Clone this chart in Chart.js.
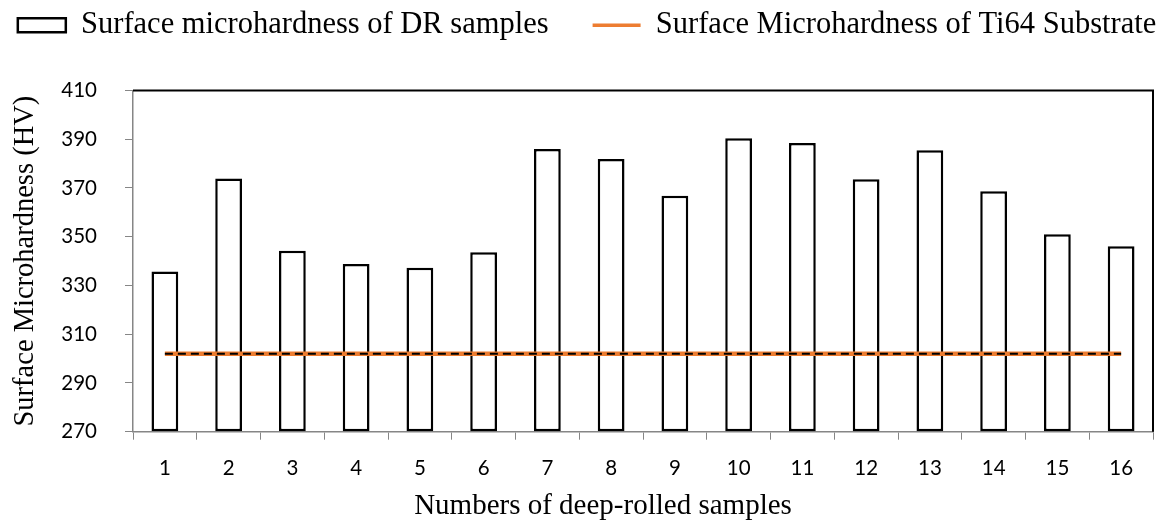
<!DOCTYPE html>
<html>
<head>
<meta charset="utf-8">
<script src="https://cdn.jsdelivr.net/npm/chart.js@4"></script>
<style>
html,body{margin:0;padding:0;background:#fff;}
#wrap{width:1160px;height:524px;position:relative;}
</style>
</head>
<body>
<div id="wrap"><canvas id="c"></canvas></div>
<script>
// ---- data ----
const categories = ['1','2','3','4','5','6','7','8','9','10','11','12','13','14','15','16'];
const drHardness = [335.7, 373.9, 344.2, 338.8, 337.3, 343.6, 386.0, 381.9, 366.8, 390.4, 388.5, 373.6, 385.5, 368.7, 351.0, 346.1];
const substrateHardness = [302, 302, 302, 302, 302, 302, 302, 302, 302, 302, 302, 302, 302, 302, 302, 302];
const seriesNames = ['Surface microhardness of DR samples', 'Surface Microhardness of Ti64 Substrate'];
const yTitle = 'Surface Microhardness (HV)';
const xTitle = 'Numbers of deep-rolled samples';
const yMin = 270, yMax = 410, yStep = 20;

const serif = '"Liberation Serif","Times New Roman",serif';
const sans = 'Lato, "Open Sans", sans-serif';
const axisGray = '#868686';
const orange = '#ED7D31';

// black top/right frame of the plot area
const framePlugin = {
  id: 'frame',
  beforeDatasetsDraw(chart) {
    const {ctx, chartArea: a} = chart;
    ctx.save();
    ctx.strokeStyle = '#000';
    ctx.lineWidth = 2;
    ctx.beginPath();
    ctx.moveTo(a.left, a.top);
    ctx.lineTo(a.right, a.top);
    ctx.lineTo(a.right, a.bottom);
    ctx.stroke();
    ctx.restore();
  }
};

// keep legend on one row, adjust its height / centring
const legendFitPlugin = {
  id: 'legendFit',
  beforeLayout(chart) {
    const lg = chart.legend;
    if (lg && !lg.__wrapped) {
      const f = lg.fit;
      lg.fit = function () {
        const mw = this.maxWidth;
        this.maxWidth = 5000;
        f.call(this);
        this.maxWidth = mw;
        this.width = Math.min(this.width, mw);
        this.height += 40;
        if (this.lineWidths && this.lineWidths.length) this.lineWidths[0] -= 17;
      };
      const d = lg.draw;
      lg.draw = function () {
        const extra = 300;
        this.right += extra;
        if (this.lineWidths && this.lineWidths.length) this.lineWidths[0] += extra;
        d.call(this);
        this.right -= extra;
        if (this.lineWidths && this.lineWidths.length) this.lineWidths[0] -= extra;
      };
      lg.__wrapped = true;
    }
  },
  beforeDraw(chart) {
    // x-axis title sits a little left of centre in the original
    const xs = chart.scales.x;
    if (xs && !xs.__shifted) {
      const d = xs.drawTitle;
      xs.drawTitle = function () {
        this.ctx.save();
        this.ctx.translate(-40, 0);
        d.call(this);
        this.ctx.restore();
      };
      xs.__shifted = true;
    }
  }
};

new Chart(document.getElementById('c'), {
  data: {
    labels: categories,
    datasets: [
      {
        type: 'bar',
        label: seriesNames[0],
        data: drHardness,
        backgroundColor: '#ffffff',
        borderColor: '#000000',
        borderWidth: 2.5,
        borderSkipped: false,
        base: yMin,
        barPercentage: 0.42,
        categoryPercentage: 1,
        order: 3
      },
      {
        type: 'line',
        label: seriesNames[1],
        data: substrateHardness,
        borderColor: orange,
        backgroundColor: orange,
        borderWidth: 4.5,
        pointRadius: 0,
        tension: 0,
        order: 2
      },
      {
        type: 'line',
        label: 'dash',
        data: substrateHardness,
        borderColor: '#000000',
        borderWidth: 2,
        borderDash: [8, 5],
        pointRadius: 0,
        tension: 0,
        order: 1
      }
    ]
  },
  options: {
    responsive: true,
    maintainAspectRatio: false,
    animation: false,
    devicePixelRatio: 1,
    layout: { padding: { left: 4, right: 7, top: -34, bottom: 0 } },
    plugins: {
      tooltip: { enabled: false },
      legend: {
        display: true,
        position: 'top',
        labels: {
          usePointStyle: true,
          pointStyleWidth: 48,
          boxHeight: 14,
          padding: 44,
          color: '#000',
          font: { family: serif, size: 30.5 },
          generateLabels() {
            return [
              { text: seriesNames[0], fillStyle: '#ffffff', strokeStyle: '#000000', lineWidth: 2.5, pointStyle: 'rect', datasetIndex: 0, hidden: false, fontColor: '#000' },
              { text: seriesNames[1], fillStyle: orange, strokeStyle: orange, lineWidth: 3.5, pointStyle: 'line', datasetIndex: 1, hidden: false, fontColor: '#000' }
            ];
          }
        }
      }
    },
    scales: {
      x: {
        type: 'category',
        offset: true,
        afterFit(scale) { scale.height = 92.3; },
        grid: { display: true, drawOnChartArea: false, drawTicks: true, tickLength: 8, color: axisGray, lineWidth: 1, offset: true },
        border: { display: true, color: axisGray, width: 1.5 },
        ticks: { color: '#000', font: { family: sans, size: 20.5 }, padding: 16, maxRotation: 0, autoSkip: false },
        title: { display: true, text: xTitle, color: '#000', font: { family: serif, size: 29 }, padding: { top: 0, bottom: 0 } }
      },
      y: {
        type: 'linear',
        min: yMin,
        max: yMax,
        afterFit(scale) { scale.width = 129; },
        grid: { display: true, drawOnChartArea: false, drawTicks: true, tickLength: 8, color: axisGray, lineWidth: 1 },
        border: { display: true, color: axisGray, width: 1.5 },
        ticks: { stepSize: yStep, color: '#000', font: { family: sans, size: 20.5 }, padding: 28 },
        title: { display: true, text: yTitle, color: '#000', font: { family: serif, size: 28.5 }, padding: { top: 4, bottom: 0 } }
      }
    }
  },
  plugins: [framePlugin, legendFitPlugin]
});
</script>
</body>
</html>
